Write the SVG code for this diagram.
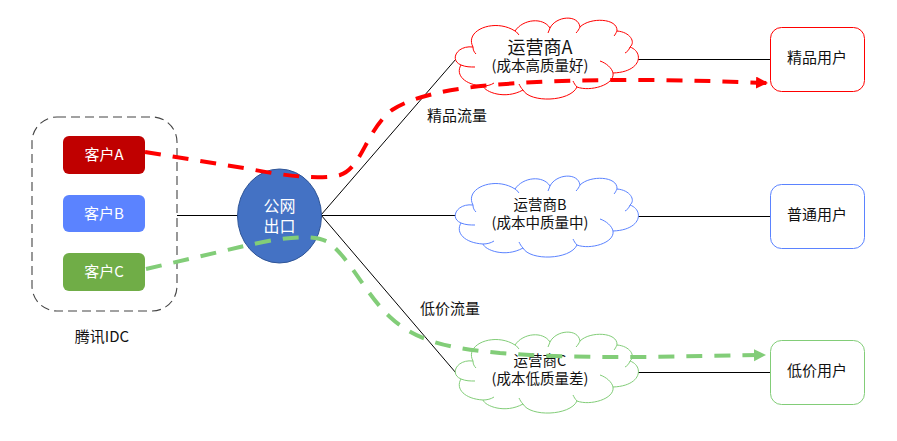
<svg xmlns="http://www.w3.org/2000/svg" xmlns:xlink="http://www.w3.org/1999/xlink" width="897" height="441" viewBox="0 0 897 441">
<style>
text{font-family:"Noto Sans CJK SC","Liberation Sans",sans-serif;text-anchor:middle;fill:#111;font-size:15px}
.w{fill:#fff}
.cust{stroke:none}
.user{fill:#fff}
.cl{fill:#fff;stroke-width:1}
.in{fill:none;stroke-width:1}
.ln{fill:none;stroke:#000;stroke-width:1}
.flow{fill:none;stroke-width:4;stroke-dasharray:16 12}
</style>
<defs>
<path id="cloud" d="M473,47C464,30 495,18 515,31C523,19 543,17 550,28C556,16 578,14 580,27C590,17 618,18 617,31C630,32 636,42 630,47C644,52 642,72 613,73C615,85 590,92 577,87C570,102 530,103 523,90C505,100 485,92 483,86C465,85 455,75 461,65C449,60 457,45 473,47Z"/>
<path id="cloudin" d="M461,65C466,67 470,67 475,67M473,47C473,50 474,52 476,54M515,31C517,32 518,34 519,35M550,28L548,33M580,27C579,29 578,31 576,33M617,31C616,33 615,35 614,36M630,47C629,50 627,52 625,53M613,73C612,68 606,63 600,61M577,87C575,85 574,83 573,81M523,90C521,88 520,86 519,84M483,86C487,86 491,85 494,83"/>
<marker id="ar" markerUnits="userSpaceOnUse" markerWidth="14" markerHeight="14" refX="11" refY="6" orient="auto"><path d="M0,0L12,6L0,12Z" fill="#f00"/></marker>
<marker id="ag" markerUnits="userSpaceOnUse" markerWidth="14" markerHeight="14" refX="11" refY="6" orient="auto"><path d="M0,0L12,6L0,12Z" fill="#82cd78"/></marker>
</defs>
<g id="connectors-back">
<path class="ln" d="M177,215.5H240M321,215L456,59M321,215.5H456M321,215L456,373M638,59.5H770M638,216.5H770M638,372.5H770"/>
</g>
<g id="idc"><rect x="32" y="117" width="145" height="194" rx="25" fill="#fff" fill-opacity="0" stroke="#444" stroke-width="1.1" stroke-dasharray="9 5"/><text x="102" y="342">腾讯IDC</text></g>
<g id="custA"><rect class="cust" x="63" y="136" width="82" height="38" rx="6" fill="#c00000"/><text class="w" x="104" y="160">客户A</text></g>
<g id="custB"><rect class="cust" x="63" y="195" width="82" height="37" rx="6" fill="#5b83ff"/><text class="w" x="104" y="219">客户B</text></g>
<g id="custC"><rect class="cust" x="63" y="253" width="82" height="38" rx="6" fill="#70ad47"/><text class="w" x="104" y="277">客户C</text></g>
<g id="exit"><ellipse cx="279.5" cy="216" rx="42" ry="47" fill="#4472c4" stroke="#2f5597"/><text class="w" x="279.5" y="212" style="font-size:16px">公网</text><text class="w" x="279.5" y="232" style="font-size:16px">出口</text></g>
<g id="opA" stroke="#f00"><use href="#cloud" class="cl"/><use href="#cloudin" class="in"/><text x="540" y="54" style="font-size:18px" stroke="none">运营商A</text><text x="540" y="71" style="font-size:14.5px" stroke="none">(成本高质量好)</text></g>
<g id="opB" stroke="#5b83ff" transform="translate(0,158)"><use href="#cloud" class="cl"/><use href="#cloudin" class="in"/><text x="540" y="52" style="font-size:14.5px" stroke="none">运营商B</text><text x="540" y="70" style="font-size:14.5px" stroke="none">(成本中质量中)</text></g>
<g id="opC" stroke="#82cd78" transform="translate(0,314)"><use href="#cloud" class="cl"/><use href="#cloudin" class="in"/><text x="540" y="52" style="font-size:14.5px" stroke="none">运营商C</text><text x="540" y="70" style="font-size:14.5px" stroke="none">(成本低质量差)</text></g>
<g id="userA"><rect class="user" x="770.5" y="27.5" width="94" height="64" rx="11" stroke="#f00"/><text x="817" y="63">精品用户</text></g>
<g id="userB"><rect class="user" x="770.5" y="184.5" width="94" height="64" rx="11" stroke="#5b83ff"/><text x="817" y="220">普通用户</text></g>
<g id="userC"><rect class="user" x="770.5" y="340.5" width="94" height="64" rx="11" stroke="#82cd78"/><text x="817" y="376">低价用户</text></g>
<text x="457" y="121">精品流量</text>
<text x="450" y="314">低价流量</text>
<g id="connectors">
<path class="flow" stroke="#f00" marker-end="url(#ar)" d="M145,152L250,169C285,176 320,180 340,175C362,168 366,130 392,110C420,92 470,86 520,83C600,78 690,80 767,83"/>
<path class="flow" stroke="#82cd78" marker-end="url(#ag)" d="M146,269L240,247C270,240 310,232 328,242C350,258 366,295 390,317C420,345 460,349 500,353C590,360 680,356 765,355"/>
</g>
</svg>
